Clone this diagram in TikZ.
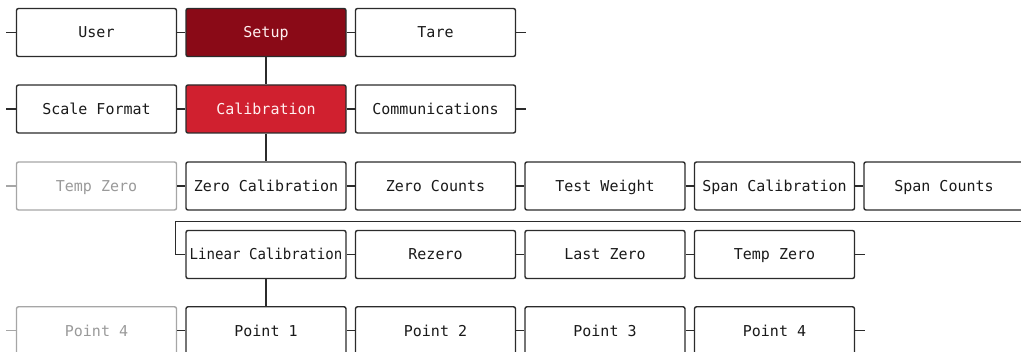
\documentclass[tikz,border=0pt]{standalone}
\usepackage{fontspec}
\setmonofont{DejaVu Sans Mono}
\definecolor{lineC}{HTML}{2B2B2B}
\definecolor{txtC}{HTML}{1A1A1A}
\definecolor{greyC}{HTML}{A6A6A6}
\definecolor{greyT}{HTML}{9A9A9A}
\definecolor{setupC}{HTML}{8A0A17}
\definecolor{calibC}{HTML}{D0202F}
\begin{document}
\begin{tikzpicture}[x=1pt,y=-1pt,
  box/.style={draw=lineC,line width=1.4pt,rounded corners=2pt,fill=white,
    minimum width=160pt,minimum height=48pt,inner sep=0pt,
    text height=11pt,text depth=0pt,text=txtC,
    font=\ttfamily\fontsize{15}{18}\selectfont},
  dim/.style={box,draw=greyC,text=greyT},
  dark/.style={box,fill=setupC,text=white!94!red},
  red/.style={box,fill=calibC,text=white!94!red},
  wire/.style={draw=lineC,line width=1.4pt},
  gwire/.style={draw=greyC,line width=1.4pt}]
\useasboundingbox (0,0) rectangle (1021,352);
\clip (0,0) rectangle (1021,352);
% row 1
\node[box]  (user)  at (96.5,32.5) {User};
\node[dark] (setup) at (266,32.5) {Setup};
\node[box]  (tare)  at (435.5,32.5) {Tare};
% row 2
\node[box] (sf)   at (96.5,109) {Scale Format};
\node[red] (cal)  at (266,109) {Calibration};
\node[box] (comm) at (435.5,109) {Communications};
% row 3
\node[dim] (tz0) at (96.5,186) {Temp Zero};
\node[box] (zc)  at (266,186) {Zero Calibration};
\node[box] (zct) at (435.5,186) {Zero Counts};
\node[box] (tw)  at (605,186) {Test Weight};
\node[box] (sc)  at (774.5,186) {Span Calibration};
\node[box] (spc) at (944,186) {Span Counts};
% row 4
\node[box] (lin) at (266,254.5) {\scalebox{0.94}[1]{Linear Calibration}};
\node[box] (rz)  at (435.5,254.5) {Rezero};
\node[box] (lz)  at (605,254.5) {Last Zero};
\node[box] (tz)  at (774.5,254.5) {Temp Zero};
% row 5
\node[dim] (p40) at (96.5,330.8) {Point 4};
\node[box] (p1)  at (266,330.8) {Point 1};
\node[box] (p2)  at (435.5,330.8) {Point 2};
\node[box] (p3)  at (605,330.8) {Point 3};
\node[box] (p4)  at (774.5,330.8) {Point 4};
% stubs and links row 1
\draw[wire] (user.west) -- ++(-9.5,0);
\draw[wire] (user) -- (setup);
\draw[wire] (setup) -- (tare);
\draw[wire] (tare.east) -- ++(9.5,0);
% row 2
\draw[wire] (sf.west) -- ++(-9.5,0);
\draw[wire] (sf) -- (cal);
\draw[wire] (cal) -- (comm);
\draw[wire] (comm.east) -- ++(9.5,0);
% row 3
\draw[gwire] (tz0.west) -- ++(-9.5,0);
\draw[wire] (tz0) -- (zc);
\draw[wire] (zc) -- (zct);
\draw[wire] (zct) -- (tw);
\draw[wire] (tw) -- (sc);
\draw[wire] (sc) -- (spc);
% wrap to row 4
\coordinate (wrapR) at (1030,221.7);
\coordinate (wrapL) at (175.7,221.7);
\draw[wire] (wrapR) -- (wrapL) |- (lin.west);
\draw[wire] (lin) -- (rz);
\draw[wire] (rz) -- (lz);
\draw[wire] (lz) -- (tz);
\draw[wire] (tz.east) -- ++(9.5,0);
% row 5
\draw[gwire] (p40.west) -- ++(-9.5,0);
\draw[wire] (p40) -- (p1);
\draw[wire] (p1) -- (p2);
\draw[wire] (p2) -- (p3);
\draw[wire] (p3) -- (p4);
\draw[wire] (p4.east) -- ++(9.5,0);
% verticals
\draw[wire] (setup) -- (cal);
\draw[wire] (cal) -- (zc);
\draw[wire] (lin) -- (p1);
\end{tikzpicture}
\end{document}
